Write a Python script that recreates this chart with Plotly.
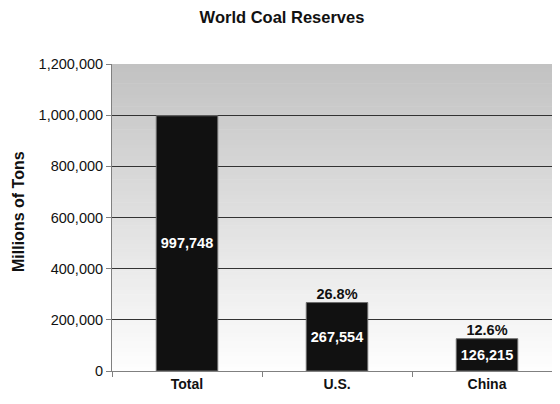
import plotly.graph_objects as go

categories = ["Total", "U.S.", "China"]
reserves = [997748, 267554, 126215]
value_labels = ["997,748", "267,554", "126,215"]
share_labels = ["", "26.8%", "12.6%"]
y_ticks = [0, 200000, 400000, 600000, 800000, 1000000, 1200000]
y_tick_labels = ["0", "200,000", "400,000", "600,000", "800,000", "1,000,000", "1,200,000"]

FONT = "Liberation Sans, Arial, sans-serif"

# page body has an 8px margin: figure is placed at (8, 8)
W, H = 552, 396

fig = go.Figure()

fig.add_trace(go.Bar(
    x=categories,
    y=reserves,
    width=0.41,
    marker=dict(color="#111111", line=dict(color="#6e6e6e", width=1)),
    text=value_labels,
    textposition="inside",
    insidetextanchor="middle",
    textangle=0,
    textfont=dict(family=FONT, size=14.5, color="white", weight="bold"),
    hoverinfo="skip",
))

fig.add_trace(go.Scatter(
    x=categories,
    y=reserves,
    mode="text",
    text=share_labels,
    textposition="top center",
    textfont=dict(family=FONT, size=14.5, color="#111111", weight="bold"),
    hoverinfo="skip",
    showlegend=False,
))

# vertical gradient background (grey at top to white at bottom)
n = 80
shapes = []
top = (194, 194, 194)
bot = (254, 254, 254)
for i in range(n):
    f = i / (n - 1)
    c = tuple(int(round(top[k] + (bot[k] - top[k]) * f)) for k in range(3))
    y1 = 1 - i / n
    y0 = 1 - (i + 1) / n - 0.002
    shapes.append(dict(type="rect", xref="x domain", yref="y domain",
                       x0=0, x1=1, y0=max(y0, 0), y1=y1, layer="below",
                       line=dict(width=0), fillcolor="rgb(%d,%d,%d)" % c))

fig.update_layout(
    width=W, height=H,
    margin=dict(l=104, r=0, t=56, b=33),
    paper_bgcolor="white",
    plot_bgcolor="rgba(0,0,0,0)",
    showlegend=False,
    bargap=0.59,
    shapes=shapes,
    font=dict(family=FONT, color="#111111"),
    title=dict(text="<b>World Coal Reserves</b>", x=274 / W, xanchor="center",
               y=1 - 9 / H, yanchor="middle", xref="container", yref="container",
               font=dict(family=FONT, size=16.5, color="#111111")),
    xaxis=dict(
        range=[-0.5, -0.5 + 448 / 150],
        showgrid=False, showline=True, linecolor="#808080", linewidth=1,
        ticks="outside", tickson="boundaries", ticklen=5, tickcolor="#808080",
        tickfont=dict(family=FONT, size=14, color="#111111", weight="bold"),
        fixedrange=True,
    ),
    yaxis=dict(
        range=[0, 1200000],
        tickvals=y_ticks, ticktext=y_tick_labels,
        showgrid=True, gridcolor="#333333", gridwidth=1,
        showline=True, linecolor="#808080", linewidth=1,
        ticks="outside", ticklen=5, tickcolor="#808080",
        tickfont=dict(family=FONT, size=14.5, color="#111111"),
        zeroline=False, fixedrange=True,
    ),
    annotations=[dict(
        text="<b>Millions of Tons</b>", textangle=-90,
        xref="paper", yref="paper", x=(18 - 112) / 448, y=(371 - 212) / 307,
        xanchor="center", yanchor="middle", showarrow=False,
        font=dict(family=FONT, size=16, color="#111111"),
    )],
)

fig.write_html("out.html")
